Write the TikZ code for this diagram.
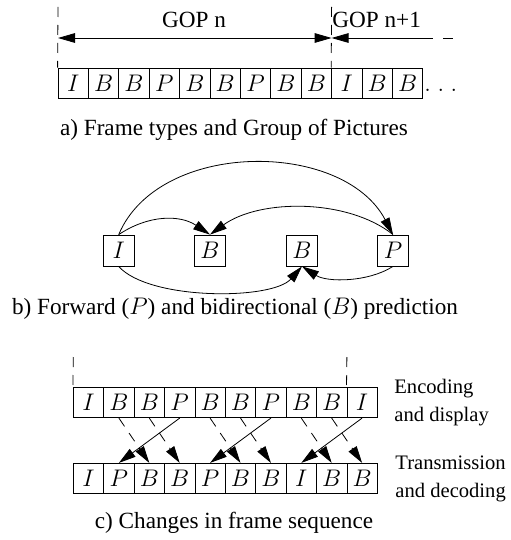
\documentclass[tikz,border=0pt]{standalone}
\usepackage{fontspec}
\setmainfont{Liberation Serif}
\usetikzlibrary{arrows.meta}
\begin{document}
\begin{tikzpicture}[x=0.5pt,y=-0.5pt,line width=0.4pt,
  fr/.style={draw, minimum width=15.2pt, minimum height=15pt, inner sep=0pt, font=\fontsize{12.5}{14}\selectfont},
  tip/.style={-{Triangle[length=8.5pt,width=4.8pt]}},
  dtip/.style={{Triangle[length=8.5pt,width=4.8pt]}-{Triangle[length=8.5pt,width=4.8pt]}},
  ltip/.style={{Triangle[length=8.5pt,width=4.8pt]}-},
  captext/.style={font=\fontsize{11.6}{14}\selectfont, inner sep=0pt, anchor=base},
  lbl/.style={font=\fontsize{10.3}{12}\selectfont, inner sep=0pt, anchor=base west},
  vdash/.style={dash pattern=on 5pt off 4pt},
  adash/.style={dash pattern=on 5pt off 4pt}]
\useasboundingbox (0,0) rectangle (510,540);

% ---------- a) ----------
\foreach \l [count=\i from 0] in {I,B,B,P,B,B,P,B,B,I,B,B}
  \node[fr] (a\i) at ({73.2+30.4*\i},83) {$\l$};
\node[anchor=base west, font=\fontsize{12}{14}\selectfont, inner sep=0pt] (adots) at (424,91) {$.\;.\;.$};
\coordinate (va1) at (58,7);
\coordinate (va2) at (331.6,7);
\draw[vdash] (va1) -- (a0.north west);
\draw[vdash] (va2) -- (a9.north west);
\coordinate (gl) at (58,38);
\coordinate (gm) at (331.6,38);
\coordinate (ge) at (433,38);
\coordinate (gd1) at (443,38);
\coordinate (gd2) at (453,38);
\draw[dtip] (gl) -- (gm);
\draw[ltip] (gm) -- (ge);
\draw (gd1) -- (gd2);
\node[captext] (gopn) at (194,28) {GOP n};
\node[captext, anchor=base west] (gopn1) at (332,28) {GOP n+1};
\node[captext] (capa) at (234,135) {a) Frame types and Group of Pictures};

% ---------- b) ----------
\node[fr, minimum height=15.5pt] (bI) at (118.7,250.5) {$I$};
\node[fr, minimum height=15.5pt] (bB1) at (210,250.5) {$B$};
\node[fr, minimum height=15.5pt] (bB2) at (302,250.5) {$B$};
\node[fr, minimum height=15.5pt] (bP) at (393,250.5) {$P$};
\draw[tip] (bI.north) .. controls +(40,-95) and +(-50,-95) .. (bP.north);
\draw[tip] (bI.north) .. controls +(30,-20) and +(-30,-20) .. (bB1.north);
\draw[tip] (bP.north) .. controls +(-45,-36) and +(50,-36) .. (bB1.north);
\draw[tip] (bI.south) .. controls +(30,34) and +(-30,34) .. (bB2.south);
\draw[tip] (bP.south) .. controls +(-25,16) and +(25,16) .. (bB2.south);
\node[captext] (capb) at (235,314) {b) Forward ($P$) and bidirectional ($B$) prediction};

% ---------- c) ----------
\foreach \l [count=\i from 0] in {I,B,B,P,B,B,P,B,B,I}
  \node[fr] (t\i) at ({88.5+30.4*\i},402.7) {$\l$};
\foreach \l [count=\i from 0] in {I,P,B,B,P,B,B,I,B,B}
  \node[fr] (u\i) at ({88.5+30.4*\i},478.3) {$\l$};
\coordinate (vc1) at (73.3,357);
\coordinate (vc2) at (346.9,357);
\draw[vdash] (vc1) -- (t0.north west);
\draw[vdash] (vc2) -- (t9.north west);
\foreach \s/\d in {1/2,2/3,4/5,5/6,7/8,8/9}
  \draw[tip, adash] (t\s.south) -- (u\d.north);
\foreach \s/\d in {3/1,6/4,9/7}
  \draw[tip] (t\s.south) -- (u\d.north);
\node[lbl] (enc1) at (394,393) {Encoding};
\node[lbl] (enc2) at (394,421) {and display};
\node[lbl] (tr1) at (395,469) {Transmission};
\node[lbl] (tr2) at (395,497) {and decoding};
\node[captext] (capc) at (234,528) {c) Changes in frame sequence};
\end{tikzpicture}
\end{document}
